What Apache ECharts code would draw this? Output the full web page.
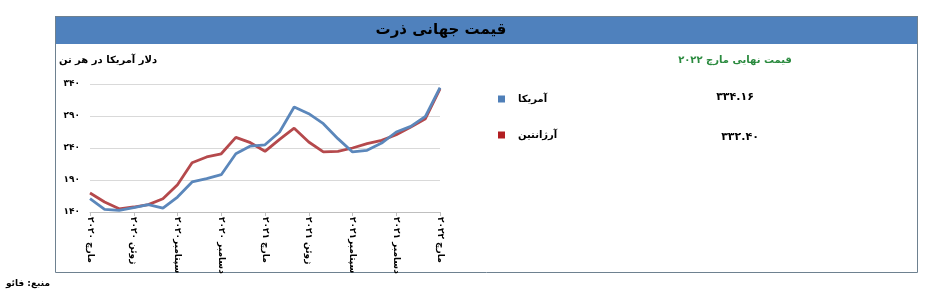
<!DOCTYPE html>
<html>
<head>
<meta charset="utf-8">
<script src="https://cdn.jsdelivr.net/npm/echarts@6/dist/echarts.min.js"></script>
<style>
html,body{margin:0;padding:0;background:#fff;}
#c{width:940px;height:292px;}
</style>
</head>
<body>
<div id="c"></div>
<script>
const categories = ['مارچ ۲۰۲۰','آوریل ۲۰۲۰','مه ۲۰۲۰','ژوئن ۲۰۲۰','ژوئیه ۲۰۲۰','اوت ۲۰۲۰','سپتامبر۲۰۲۰','اکتبر ۲۰۲۰','نوامبر ۲۰۲۰','دسامبر ۲۰۲۰','ژانویه ۲۰۲۱','فوریه ۲۰۲۱','مارچ ۲۰۲۱','آوریل ۲۰۲۱','مه ۲۰۲۱','ژوئن ۲۰۲۱','ژوئیه ۲۰۲۱','اوت ۲۰۲۱','سپتامبر۲۰۲۱','اکتبر ۲۰۲۱','نوامبر ۲۰۲۱','دسامبر ۲۰۲۱','ژانویه ۲۰۲۲','فوریه ۲۰۲۲','مارچ ۲۰۲۲'];
const usaValues = [160.8,144.2,142.6,146.8,151.5,146.0,163.4,186.9,192.0,198.3,231.0,243.0,245.0,265.0,304.0,293.6,278.0,254.6,233.8,236.4,247.8,265.0,273.8,289.5,334.16];
const argValues = [169.7,155.6,145.0,147.8,151.5,160.8,182.7,217.0,226.0,231.0,256.7,248.3,234.8,253.5,271.0,249.4,233.8,234.8,240.0,246.8,252.0,260.8,272.8,285.8,332.40];
const seriesNames = ['آمریکا','آرژانتین'];
const yMin = 140, yMax = 340, yStep = 50;
const titleText = 'قیمت جهانی ذرت';
const yAxisTitle = 'دلار آمریکا در هر تن';
const legendHeader = 'قیمت نهایی مارچ ۲۰۲۲';
const sourceText = 'منبع: فائو';

const fa = s => String(s).replace(/[0-9]/g, d => '۰۱۲۳۴۵۶۷۸۹'[d]);
const FONT = '"DejaVu Sans", sans-serif';

const chart = echarts.init(document.getElementById('c'), null, {renderer:'canvas'});
const finalUsa = fa(usaValues[usaValues.length-1].toFixed(2));
const finalArg = fa(argValues[argValues.length-1].toFixed(2));

chart.setOption({
  backgroundColor:'#ffffff',
  animation:false,
  textStyle:{fontFamily:FONT},
  grid:{left:90, right:500, top:84, bottom:80},
  xAxis:{
    type:'category', data:categories, boundaryGap:false,
    axisLine:{show:true, lineStyle:{color:'#bfbfbf', width:1}},
    axisTick:{show:true, interval:2, length:4, lineStyle:{color:'#bfbfbf'}},
    axisLabel:{interval:2, rotate:-90, margin:5, fontFamily:FONT, fontWeight:'bold', fontSize:9, color:'#000'},
    splitLine:{show:false}
  },
  yAxis:{
    type:'value', min:yMin, max:yMax, interval:yStep,
    axisLine:{show:false}, axisTick:{show:false},
    axisLabel:{formatter:v=>fa(v), fontFamily:FONT, fontWeight:'bold', fontSize:9, color:'#000', margin:10},
    splitLine:{lineStyle:{color:'#d9d9d9', width:1}}
  },
  legend:{
    orient:'vertical', left:493, top:89, itemWidth:7, itemHeight:7, itemGap:26,
    icon:'rect', data:seriesNames,
    textStyle:{fontFamily:FONT, fontWeight:'bold', fontSize:10, color:'#000', padding:[0,0,0,8]}
  },
  series:[
    {name:seriesNames[0], type:'line', data:usaValues, symbol:'none', lineStyle:{color:'#5b87bb', width:2.8}, itemStyle:{color:'#4f7fb8'}, z:3},
    {name:seriesNames[1], type:'line', data:argValues, symbol:'none', lineStyle:{color:'#b5494c', width:2.8}, itemStyle:{color:'#b21e22'}, z:2}
  ],
  graphic:[
    {type:'rect', shape:{x:55, y:16, width:863, height:28}, style:{fill:'#4f81bd'}, z:-1},
    {type:'rect', shape:{x:55.5, y:16.5, width:862, height:256}, style:{fill:'none', stroke:'#6e8190', lineWidth:1}, z:-1},
    {type:'text', x:441, y:30, style:{text:titleText, font:'bold 15px '+FONT, fill:'#000', align:'center', verticalAlign:'middle'}},
    {type:'text', x:108, y:60, style:{text:yAxisTitle, font:'bold 10px '+FONT, fill:'#000', align:'center', verticalAlign:'middle'}},
    {type:'text', x:735, y:60, style:{text:legendHeader, font:'bold 10px '+FONT, fill:'#2a8a3e', align:'center', verticalAlign:'middle'}},
    {type:'text', x:735, y:97, style:{text:finalUsa, font:'bold 11px '+FONT, fill:'#000', align:'center', verticalAlign:'middle'}},
    {type:'text', x:740, y:137, style:{text:finalArg, font:'bold 11px '+FONT, fill:'#000', align:'center', verticalAlign:'middle'}},
    {type:'text', x:50, y:284, style:{text:sourceText, font:'bold 9px '+FONT, fill:'#000', align:'right', verticalAlign:'middle'}}
  ]
});
</script>
</body>
</html>
